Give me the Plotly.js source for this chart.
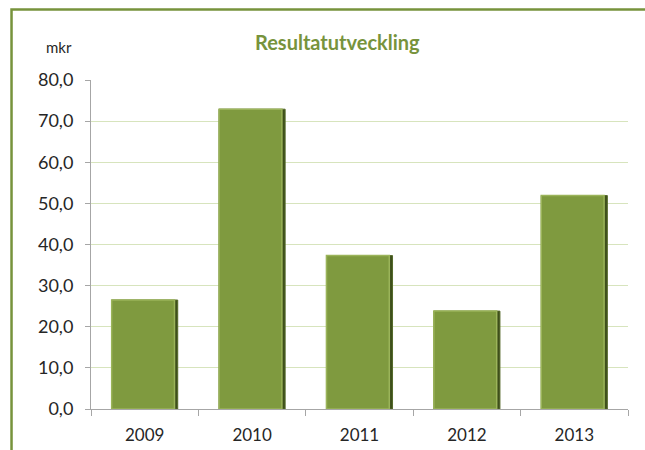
<!DOCTYPE html>
<html>
<head>
<meta charset="utf-8">
<script src="https://cdn.plot.ly/plotly-3.0.1.min.js"></script>
<style>
  html, body { margin: 0; padding: 0; background: #fff; }
  #chart { width: 645px; height: 450px; }
</style>
</head>
<body>
<div id="chart"></div>
<script>
// Data (mkr per year)
const years = ["2009", "2010", "2011", "2012", "2013"];
const results = [26.5, 72.9, 37.3, 23.8, 51.9];

const green = "#77933c";
const barFace = "#7f9a3f";
const barShade = "#3e4f1b";

// dark underlayer gives the shaded right edge, face bar sits on top
const shade = {
  type: "bar",
  x: years,
  y: results,
  width: 0.615,
  marker: { color: barShade, line: { color: "#55692a", width: 1 } },
  hoverinfo: "skip",
};

const face = {
  type: "bar",
  x: years,
  y: results,
  width: 0.585,
  offset: -0.3075,
  marker: { color: barFace, line: { color: "#9bb45a", width: 1.5 } },
};

const layout = {
  width: 645,
  height: 450,
  margin: { l: 91, r: 17, t: 80, b: 41 },
  paper_bgcolor: "#ffffff",
  plot_bgcolor: "#ffffff",
  barmode: "overlay",
  showlegend: false,
  font: { family: "Lato, 'Open Sans', sans-serif", color: "#262626" },
  title: {
    text: "<b>Resultatutveckling</b>",
    font: { size: 20, color: green, family: "Lato, 'Open Sans', sans-serif" },
    xref: "container",
    x: 0.523,
    xanchor: "center",
    yref: "container",
    y: 0.905,
    yanchor: "middle",
  },
  xaxis: {
    type: "category",
    showline: true,
    linecolor: "#a6a6a6",
    linewidth: 1,
    ticks: "outside",
    tickson: "boundaries",
    ticklen: 6,
    tickcolor: "#a6a6a6",
    ticklabelstandoff: 11,
    tickfont: { size: 17, color: "#262626" },
    showgrid: false,
  },
  yaxis: {
    range: [0, 80],
    dtick: 10,
    tickformat: ".1f",
    showline: true,
    linecolor: "#a6a6a6",
    linewidth: 1,
    ticks: "outside",
    ticklen: 5,
    tickcolor: "#a6a6a6",
    ticklabelstandoff: 8,
    tickfont: { size: 18, color: "#262626" },
    gridcolor: "#d7e4bd",
    zeroline: false,
  },
  separators: ", ",
  annotations: [
    {
      text: "mkr",
      xref: "paper",
      yref: "paper",
      x: -0.06,
      y: 1.1,
      xanchor: "center",
      yanchor: "middle",
      showarrow: false,
      font: { size: 15, color: "#262626" },
    },
  ],
  shapes: [
    // olive frame around the chart area
    {
      type: "rect",
      xref: "paper",
      yref: "paper",
      x0: -0.148,
      x1: 1.05,
      y0: -0.16,
      y1: 1.214,
      line: { color: green, width: 2.5 },
      fillcolor: "rgba(0,0,0,0)",
      layer: "below",
    },
  ],
};

Plotly.newPlot("chart", [shade, face], layout, { displayModeBar: false, staticPlot: true });
</script>
</body>
</html>
